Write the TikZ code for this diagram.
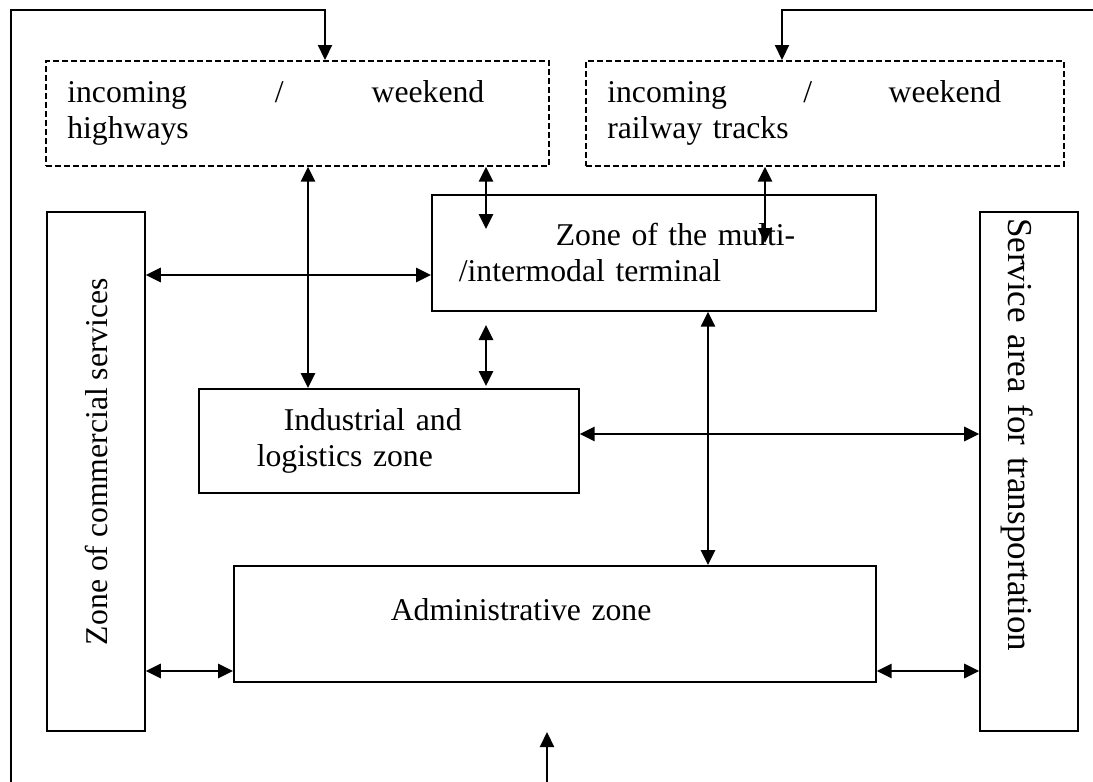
\documentclass[tikz,border=0pt]{standalone}
\usepackage{fontspec}
\setmainfont{Liberation Serif}
\usetikzlibrary{arrows.meta}

\begin{document}
\begin{tikzpicture}[x=1pt, y=-1pt,
    font=\fontsize{31.7}{36}\selectfont,
    zone_box/.style ={rectangle, draw=black, line width=1.6pt, fill=white,
      align=left, inner xsep=0pt, inner ysep=0pt, anchor=north west},
    dashed_box/.style ={zone_box, dash pattern=on 6pt off 3pt},
    link/.style ={draw, line width=2.8pt,
      {Triangle[length=15pt,width=14pt]}-{Triangle[length=15pt,width=14pt]}},
    feed/.style ={draw, line width=2.2pt, -{Triangle[length=15pt,width=14pt]}}]
    \useasboundingbox (0,0) rectangle (1093,782);
    % incoming / weekend links
    \node [dashed_box, minimum width=503pt, minimum height=105pt, text width=460pt] (highways) at (45,60)
      {\makebox[417pt][l]{incoming\hfill/\hfill weekend}\\highways};
    \node [dashed_box, minimum width=478pt, minimum height=105pt, text width=435pt] (railways) at (585,60)
      {\makebox[394pt][l]{incoming\hfill/\hfill weekend}\\railway tracks};
    % zones
    \node [zone_box, minimum width=444pt, minimum height=116pt, text width=390pt] (terminal) at (431,194)
      {\hspace*{97pt}Zone of the multi-\\/intermodal terminal};
    \node [zone_box, minimum width=380pt, minimum height=104pt, text width=264pt] (industrial) at (198,388)
      {\hspace*{27pt}Industrial and\\logistics zone};
    \node [zone_box, minimum width=642pt, minimum height=116pt, text width=328pt, text depth=29pt] (admin) at (233,565)
      {Administrative zone};
    \node [zone_box, anchor=center, rotate=90, minimum width=519pt, minimum height=98pt] (commercial) at (96,471.5)
      {\hspace*{20pt}Zone of commercial services};
    \node [zone_box, anchor=center, rotate=-90, minimum width=519pt, minimum height=98pt,
      font=\fontsize{35}{40}\selectfont, text width=507pt, text height=48pt] (transport) at (1029,471.5)
      {Service area for transportation};
    % frame ends
    \coordinate (frame_bl) at (11,782);
    \coordinate (frame_tr) at (1093,10);
    \coordinate (entry_out) at (547,782);
    \coordinate (entry_in) at (547,732);
    % connecting nodes with paths
    \path [feed] (frame_bl) |- (325,0 |- frame_tr) -- (325,0 |- highways.north);
    \path [feed] (frame_tr) -| (782,0 |- railways.north);
    \path [feed] (entry_out) -- (entry_in);
    \begin{scope}[every path/.style=link]
      \path (308,0 |- highways.south) -- (308,0 |- industrial.north);
      \path (486,0 |- highways.south) -- (486,229);
      \path (765,0 |- railways.south) -- (765,243);
      \path (486,325) -- (486,386);
      \path (708,0 |- terminal.south) -- (708,0 |- admin.north);
      \path (commercial.south |- 0,275) -- (terminal.west |- 0,275);
      \path (industrial.east |- 0,434) -- (transport.south |- 0,434);
      \path (commercial.south |- 0,671) -- (admin.west |- 0,671);
      \path (admin.east |- 0,671) -- (transport.south |- 0,671);
    \end{scope}
\end{tikzpicture}
\end{document}
